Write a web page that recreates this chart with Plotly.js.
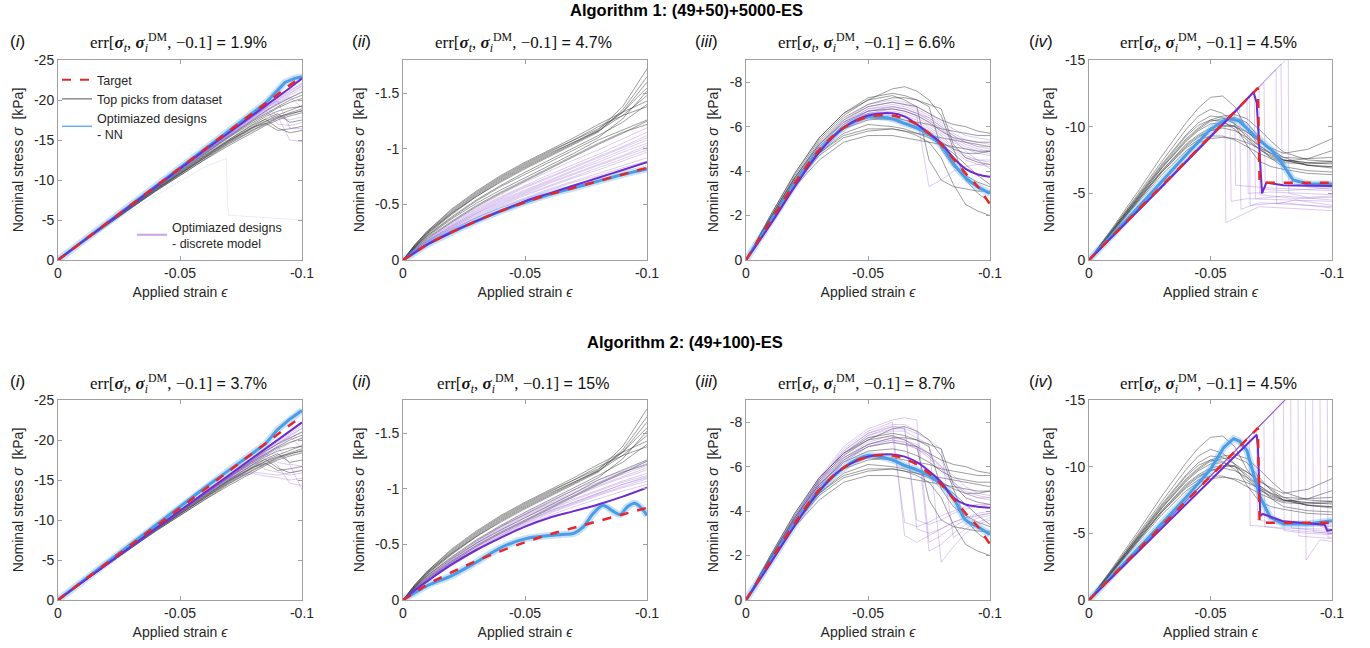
<!DOCTYPE html>
<html><head><meta charset="utf-8">
<script src="https://cdn.plot.ly/plotly-3.0.1.min.js"></script>
<style>html,body{margin:0;padding:0;background:#fff}#chart{width:1370px;height:648px}</style>
</head><body><div id="chart"></div>
<script>
// ---------------- DATA ----------------
const xTickVals = [0, -0.05, -0.1];
const xTickText = ['0', '-0.05', '-0.1'];
const yTickValsI = [0, -5, -10, -15, -20, -25];
const yTickTextI = ['0', '-5', '-10', '-15', '-20', '-25'];
const yTickValsII = [0, -0.5, -1, -1.5];
const yTickTextII = ['0', '-0.5', '-1', '-1.5'];
const yTickValsIII = [0, -2, -4, -6, -8];
const yTickTextIII = ['0', '-2', '-4', '-6', '-8'];
const yTickValsIV = [0, -5, -10, -15];
const yTickTextIV = ['0', '-5', '-10', '-15'];

const mainTitles = ['Algorithm 1: (49+50)+5000-ES', 'Algorithm 2: (49+100)-ES'];
const panelLabels = ['i', 'ii', 'iii', 'iv'];
const errTop = ['1.9%', '4.7%', '6.6%', '4.5%'];
const errBot = ['3.7%', '15%', '8.7%', '4.5%'];
const legendNames = ['Target', 'Top picks from dataset', 'Optimiazed designs<br>- NN', 'Optimiazed designs<br>- discrete model'];

// ----- column (i) -----
const xGridI = [0,-0.02,-0.04,-0.06,-0.07,-0.08,-0.085,-0.09,-0.095,-0.1];
const targetI = [0,-4.6,-9.2,-13.8,-16.1,-18.4,-19.6,-20.7,-21.9,-23.0];
const grayI = [
 [0,-4.5,-8.9,-13.0,-14.9,-16.6,-17.4,-18.1,-18.7,-19.3],
 [0,-4.4,-8.7,-12.7,-14.6,-16.3,-17.1,-17.8,-18.4,-18.9],
 [0,-4.4,-8.6,-12.5,-14.3,-16.0,-16.8,-17.5,-18.0,-18.4],
 [0,-4.5,-8.8,-12.8,-14.7,-16.5,-17.3,-17.9,-18.3,-18.6],
 [0,-4.5,-8.9,-13.1,-15.1,-17.0,-17.9,-18.6,-19.0,-19.2],
 [0,-4.6,-9.0,-13.3,-15.4,-17.4,-18.3,-19.2,-20.0,-20.6],
 [0,-4.5,-9.0,-13.2,-15.3,-17.2,-18.1,-19.0,-19.7,-20.2],
 [0,-4.4,-8.7,-12.8,-14.8,-16.6,-17.1,-16.2,-16.4,-16.7],
 [0,-4.5,-8.8,-13.0,-15.0,-16.9,-17.6,-16.5,-15.9,-16.2],
 [0,-4.6,-9.1,-13.4,-15.5,-17.6,-18.6,-19.5,-20.3,-21.0],
 [0,-4.4,-8.6,-12.6,-14.5,-16.2,-17.0,-17.7,-18.2,-18.7],
 [0,-4.5,-8.8,-12.9,-14.9,-16.7,-17.6,-18.3,-17.2,-17.5]
];
const purpleITop = [
 [0,-4.6,-9.2,-13.7,-15.9,-18.1,-19.2,-20.2,-21.2,-22.1],
 [0,-4.6,-9.1,-13.6,-15.8,-17.9,-19.0,-20.0,-20.9,-21.8],
 [0,-4.6,-9.1,-13.5,-15.6,-17.7,-18.7,-19.7,-20.6,-21.4],
 [0,-4.6,-9.1,-13.5,-15.7,-17.8,-18.8,-17.0,-16.8,-17.2],
 [0,-4.6,-9.2,-13.6,-15.8,-17.9,-18.9,-19.9,-16.5,-16.4],
 [0,-4.6,-9.1,-13.4,-15.5,-17.5,-18.5,-19.4,-20.3,-21.0],
 [0,-4.6,-9.2,-13.7,-15.9,-18.0,-19.1,-18.0,-15.0,-14.8],
 [0,-4.6,-9.1,-13.5,-15.6,-17.7,-18.6,-19.6,-20.4,-19.0],
 [0,-4.6,-9.2,-13.6,-15.8,-17.9,-18.9,-19.9,-20.8,-21.7],
 [0,-4.5,-9.0,-13.3,-15.4,-17.4,-18.4,-17.8,-17.5,-17.9],
 [0,-4.6,-9.2,-13.7,-15.9,-18.0,-19.1,-20.1,-21.1,-22.0]
];
const purpleITopOutlierX = [0,-0.02,-0.04,-0.06,-0.069,-0.0695,-0.07,-0.1];
const purpleITopOutlierY = [0,-4.2,-8.1,-11.6,-12.7,-7.0,-5.6,-5.0];
const bestITop = [0,-4.6,-9.2,-13.7,-15.9,-18.1,-19.2,-20.3,-21.5,-22.7];
const nnITopX = [0,-0.02,-0.04,-0.06,-0.07,-0.08,-0.085,-0.09,-0.093,-0.097,-0.1];
const nnITopY = [0,-4.6,-9.2,-13.8,-16.1,-18.4,-19.6,-21.2,-22.2,-22.7,-22.9];
const purpleIBot = [
 [0,-4.5,-9.0,-13.4,-15.6,-17.7,-18.8,-19.8,-20.8,-21.8],
 [0,-4.5,-8.9,-13.3,-15.4,-17.5,-18.5,-19.5,-20.5,-21.4],
 [0,-4.5,-8.9,-13.2,-15.3,-17.3,-18.3,-19.3,-20.2,-21.0],
 [0,-4.5,-8.9,-13.2,-15.3,-16.0,-15.8,-15.6,-15.9,-16.2],
 [0,-4.5,-8.9,-13.3,-15.4,-17.4,-16.3,-16.0,-15.6,-15.9],
 [0,-4.4,-8.8,-13.1,-15.2,-17.1,-18.1,-16.8,-14.6,-14.3],
 [0,-4.5,-8.9,-13.2,-15.3,-17.3,-18.2,-19.2,-17.0,-16.7],
 [0,-4.5,-9.0,-13.3,-15.5,-17.6,-18.6,-19.5,-20.4,-19.0],
 [0,-4.4,-8.8,-13.1,-15.1,-17.0,-17.9,-18.8,-19.6,-20.3],
 [0,-4.5,-8.9,-13.2,-15.2,-15.8,-15.5,-15.3,-15.0,-15.2],
 [0,-4.5,-9.0,-13.4,-15.5,-17.6,-18.6,-19.6,-20.6,-21.5],
 [0,-4.5,-8.9,-13.3,-15.4,-17.4,-18.4,-17.2,-16.9,-13.8]
];
const bestIBot = [0,-4.5,-9.0,-13.4,-15.6,-17.8,-18.9,-20.0,-21.1,-22.2];
const nnIBotX = [0,-0.02,-0.04,-0.06,-0.07,-0.08,-0.085,-0.09,-0.095,-0.1];
const nnIBotY = [0,-4.7,-9.4,-14.0,-16.2,-18.4,-19.5,-21.3,-22.6,-23.7];

// ----- column (ii) -----
const xGridII = [0,-0.005,-0.01,-0.02,-0.03,-0.04,-0.05,-0.06,-0.07,-0.08,-0.09,-0.1];
const targetII = [0,-0.07,-0.14,-0.25,-0.35,-0.44,-0.52,-0.59,-0.65,-0.71,-0.77,-0.83];
const grayII = [
 [0,-0.14,-0.26,-0.45,-0.61,-0.75,-0.87,-0.98,-1.08,-1.18,-1.33,-1.55],
 [0,-0.13,-0.25,-0.43,-0.59,-0.73,-0.85,-0.96,-1.06,-1.17,-1.38,-1.72],
 [0,-0.13,-0.24,-0.42,-0.58,-0.72,-0.84,-0.95,-1.06,-1.16,-1.30,-1.48],
 [0,-0.12,-0.23,-0.41,-0.57,-0.70,-0.82,-0.93,-1.04,-1.15,-1.35,-1.65],
 [0,-0.14,-0.26,-0.46,-0.62,-0.76,-0.88,-0.99,-1.10,-1.22,-1.33,-1.43],
 [0,-0.12,-0.22,-0.39,-0.54,-0.67,-0.79,-0.90,-1.01,-1.12,-1.24,-1.40],
 [0,-0.11,-0.21,-0.37,-0.51,-0.63,-0.74,-0.85,-0.96,-1.08,-1.17,-1.26],
 [0,-0.11,-0.20,-0.35,-0.49,-0.61,-0.72,-0.83,-0.94,-1.05,-1.15,-1.22],
 [0,-0.12,-0.22,-0.38,-0.53,-0.66,-0.77,-0.88,-0.99,-1.10,-1.27,-1.52],
 [0,-0.13,-0.24,-0.42,-0.57,-0.71,-0.83,-0.94,-1.05,-1.16,-1.33,-1.60],
 [0,-0.10,-0.19,-0.34,-0.48,-0.60,-0.71,-0.82,-0.93,-1.04,-1.14,-1.25],
 [0,-0.14,-0.25,-0.44,-0.60,-0.74,-0.86,-0.97,-1.08,-1.20,-1.30,-1.38]
];
const purpleIITop = [
 [0,-0.08,-0.15,-0.27,-0.38,-0.48,-0.56,-0.64,-0.71,-0.78,-0.85,-0.92],
 [0,-0.08,-0.15,-0.28,-0.39,-0.49,-0.58,-0.66,-0.74,-0.81,-0.89,-0.97],
 [0,-0.09,-0.16,-0.29,-0.41,-0.51,-0.60,-0.69,-0.77,-0.85,-0.93,-1.01],
 [0,-0.09,-0.17,-0.30,-0.42,-0.53,-0.62,-0.71,-0.80,-0.88,-0.97,-1.05],
 [0,-0.09,-0.17,-0.31,-0.44,-0.55,-0.65,-0.74,-0.83,-0.92,-1.01,-1.10],
 [0,-0.10,-0.18,-0.33,-0.46,-0.57,-0.67,-0.77,-0.86,-0.95,-1.05,-1.15],
 [0,-0.10,-0.19,-0.34,-0.47,-0.59,-0.70,-0.80,-0.90,-0.99,-1.09,-1.19],
 [0,-0.08,-0.15,-0.27,-0.38,-0.47,-0.55,-0.63,-0.70,-0.76,-0.83,-0.89],
 [0,-0.09,-0.16,-0.29,-0.40,-0.50,-0.59,-0.67,-0.75,-0.83,-0.91,-0.99],
 [0,-0.09,-0.17,-0.30,-0.42,-0.52,-0.61,-0.70,-0.78,-0.86,-0.94,-1.03],
 [0,-0.10,-0.18,-0.32,-0.45,-0.56,-0.66,-0.75,-0.84,-0.93,-1.02,-1.12],
 [0,-0.09,-0.17,-0.31,-0.43,-0.54,-0.63,-0.72,-0.81,-0.90,-0.99,-1.08]
];
const bestIITop = [0,-0.07,-0.14,-0.25,-0.35,-0.44,-0.53,-0.60,-0.67,-0.74,-0.81,-0.88];
const nnIITop = [0,-0.07,-0.14,-0.25,-0.35,-0.44,-0.52,-0.59,-0.65,-0.71,-0.77,-0.82];
const purpleIIBot = [
 [0,-0.09,-0.17,-0.31,-0.44,-0.56,-0.67,-0.76,-0.84,-0.91,-0.98,-1.04],
 [0,-0.09,-0.17,-0.32,-0.45,-0.57,-0.68,-0.78,-0.86,-0.94,-1.01,-1.07],
 [0,-0.10,-0.18,-0.33,-0.46,-0.59,-0.70,-0.80,-0.88,-0.96,-1.04,-1.10],
 [0,-0.10,-0.18,-0.34,-0.48,-0.61,-0.72,-0.82,-0.91,-0.99,-1.07,-1.14],
 [0,-0.10,-0.19,-0.35,-0.49,-0.62,-0.74,-0.84,-0.93,-1.02,-1.10,-1.17],
 [0,-0.11,-0.20,-0.36,-0.51,-0.64,-0.76,-0.86,-0.96,-1.05,-1.13,-1.21],
 [0,-0.11,-0.20,-0.37,-0.52,-0.66,-0.78,-0.89,-0.99,-1.08,-1.16,-1.25],
 [0,-0.09,-0.17,-0.32,-0.45,-0.58,-0.69,-0.79,-0.87,-0.95,-1.02,-1.09],
 [0,-0.10,-0.18,-0.34,-0.47,-0.60,-0.71,-0.81,-0.90,-0.98,-1.06,-1.12],
 [0,-0.10,-0.19,-0.35,-0.50,-0.63,-0.75,-0.85,-0.94,-1.03,-1.11,-1.19],
 [0,-0.11,-0.20,-0.36,-0.51,-0.65,-0.77,-0.87,-0.97,-1.06,-1.15,-1.23],
 [0,-0.09,-0.18,-0.33,-0.46,-0.58,-0.70,-0.80,-0.88,-0.96,-1.04,-1.11]
];
const bestIIBot = [0,-0.09,-0.17,-0.32,-0.45,-0.56,-0.66,-0.74,-0.80,-0.86,-0.93,-1.01];
const nnIIBotX = [0,-0.01,-0.02,-0.03,-0.04,-0.05,-0.06,-0.065,-0.07,-0.074,-0.078,-0.082,-0.086,-0.089,-0.092,-0.095,-0.098,-0.1];
const nnIIBotY = [0,-0.13,-0.22,-0.34,-0.47,-0.55,-0.58,-0.59,-0.60,-0.66,-0.78,-0.85,-0.80,-0.77,-0.84,-0.87,-0.82,-0.76];

// ----- column (iii) -----
const xGridIII = [0,-0.01,-0.02,-0.03,-0.04,-0.05,-0.06,-0.065,-0.07,-0.075,-0.08,-0.085,-0.09,-0.095,-0.1];
const targetIII = [0,-1.75,-3.45,-4.95,-5.95,-6.45,-6.5,-6.35,-6.1,-5.7,-5.2,-4.55,-3.9,-3.3,-2.5];
const grayIII = [
 [0,-1.9,-3.7,-5.2,-6.2,-6.7,-6.8,-6.7,-6.5,-6.2,-5.8,-5.5,-5.4,-5.3,-5.3],
 [0,-1.8,-3.5,-4.8,-5.6,-5.9,-5.9,-5.8,-5.7,-5.6,-5.5,-5.4,-5.3,-5.2,-5.1],
 [0,-1.7,-3.3,-4.5,-5.3,-5.6,-5.6,-5.5,-5.4,-5.3,-5.2,-5.1,-5.0,-4.9,-4.9],
 [0,-2.0,-3.9,-5.5,-6.6,-7.3,-7.5,-7.4,-7.2,-6.9,-5.0,-4.2,-3.8,-3.5,-3.3],
 [0,-1.9,-3.8,-5.4,-6.5,-7.2,-7.7,-7.8,-7.6,-7.2,-6.5,-5.0,-3.6,-3.0,-2.6],
 [0,-1.8,-3.6,-5.0,-5.9,-6.3,-6.4,-6.3,-6.2,-6.1,-5.9,-5.8,-5.7,-5.6,-5.6],
 [0,-1.9,-3.7,-5.2,-6.3,-6.9,-7.1,-7.0,-6.9,-4.5,-3.6,-3.3,-3.2,-3.1,-3.1],
 [0,-1.7,-3.4,-4.7,-5.5,-5.8,-5.9,-5.8,-5.6,-5.3,-4.6,-3.4,-2.5,-2.2,-2.0],
 [0,-1.8,-3.6,-5.1,-6.0,-6.4,-6.3,-6.1,-5.9,-5.6,-5.3,-5.0,-4.8,-4.8,-4.9],
 [0,-2.0,-3.9,-5.5,-6.6,-7.2,-7.4,-7.2,-6.9,-6.6,-6.3,-6.1,-6.0,-5.8,-5.7],
 [0,-1.7,-3.4,-4.8,-5.7,-6.1,-6.0,-5.9,-5.7,-5.5,-5.2,-4.8,-4.3,-3.8,-3.4],
 [0,-1.9,-3.7,-5.3,-6.4,-7.0,-7.3,-7.3,-7.2,-7.0,-6.8,-5.2,-4.6,-4.4,-4.3]
];
const purpleIIITop = [
 [0,-1.7,-3.4,-4.9,-6.0,-6.6,-6.7,-6.6,-6.4,-6.1,-5.7,-5.3,-5.0,-4.8,-4.7],
 [0,-1.7,-3.5,-5.0,-6.1,-6.8,-6.9,-6.8,-6.6,-6.3,-5.9,-5.5,-5.2,-5.0,-4.9],
 [0,-1.8,-3.5,-5.1,-6.2,-6.9,-7.1,-7.0,-6.8,-6.5,-6.1,-5.7,-5.4,-5.3,-5.2],
 [0,-1.6,-3.3,-4.8,-5.9,-6.4,-6.5,-6.3,-6.1,-5.8,-5.4,-4.9,-4.5,-4.3,-4.2],
 [0,-1.7,-3.4,-4.9,-6.0,-6.7,-6.9,-6.8,-6.6,-6.4,-6.0,-5.6,-5.3,-5.1,-5.0],
 [0,-1.8,-3.6,-5.2,-6.3,-7.0,-7.2,-7.1,-6.9,-6.6,-6.2,-5.9,-5.6,-5.5,-5.4],
 [0,-1.7,-3.4,-4.9,-6.0,-6.6,-6.8,-6.7,-6.5,-3.3,-3.6,-4.0,-4.2,-4.3,-4.3],
 [0,-1.6,-3.3,-4.8,-5.9,-6.5,-6.6,-6.5,-6.3,-6.0,-5.6,-5.1,-4.7,-4.5,-4.4],
 [0,-1.7,-3.5,-5.0,-6.1,-6.7,-6.8,-6.7,-6.5,-6.2,-5.8,-5.4,-5.1,-4.9,-4.8],
 [0,-1.8,-3.5,-5.1,-6.2,-6.8,-7.0,-6.9,-6.7,-6.4,-6.0,-5.6,-5.3,-5.1,-5.1],
 [0,-1.7,-3.4,-4.9,-6.0,-6.6,-6.6,-6.5,-6.2,-5.9,-5.5,-5.0,-4.6,-4.5,-4.5],
 [0,-1.7,-3.4,-5.0,-6.1,-6.7,-6.9,-6.8,-6.6,-6.3,-5.9,-5.4,-4.9,-4.5,-4.1]
];
const bestIIITop = [0,-1.6,-3.3,-4.85,-5.95,-6.5,-6.6,-6.45,-6.1,-5.7,-5.25,-4.6,-4.1,-3.85,-3.75];
const nnIIITop = [0,-1.7,-3.4,-4.9,-5.95,-6.45,-6.35,-6.15,-5.95,-5.65,-5.15,-4.35,-3.7,-3.3,-3.0];
const purpleIIIBot = [
 [0,-1.8,-3.6,-5.3,-6.6,-7.4,-7.8,-7.8,-3.2,-3.0,-3.2,-3.5,-3.7,-3.8,-3.9],
 [0,-1.9,-3.8,-5.5,-6.9,-7.7,-8.1,-8.2,-8.1,-2.6,-2.9,-3.3,-3.6,-3.8,-3.9],
 [0,-1.7,-3.5,-5.1,-6.4,-7.1,-7.4,-3.5,-3.3,-3.5,-3.8,-4.0,-4.2,-4.3,-4.3],
 [0,-1.8,-3.7,-5.4,-6.7,-7.5,-7.9,-7.9,-7.6,-2.2,-2.5,-3.0,-3.4,-3.7,-3.8],
 [0,-1.7,-3.4,-5.0,-6.2,-6.9,-7.1,-7.0,-6.8,-6.4,-5.8,-5.2,-4.8,-4.6,-4.5],
 [0,-1.8,-3.6,-5.2,-6.5,-7.3,-7.6,-7.6,-7.3,-7.0,-1.7,-2.4,-3.0,-3.4,-3.6],
 [0,-1.7,-3.5,-5.1,-6.3,-7.0,-7.3,-7.2,-7.0,-6.6,-6.0,-5.3,-4.8,-4.6,-4.6],
 [0,-1.9,-3.7,-5.4,-6.8,-7.6,-8.0,-2.9,-2.6,-2.9,-3.2,-3.5,-3.7,-3.9,-4.0],
 [0,-1.7,-3.5,-5.1,-6.3,-7.0,-7.2,-7.1,-6.9,-6.5,-5.9,-5.3,-4.9,-4.7,-4.6],
 [0,-1.8,-3.6,-5.3,-6.6,-7.4,-7.7,-7.7,-7.5,-7.2,-6.8,-2.8,-3.2,-3.5,-3.7],
 [0,-1.8,-3.7,-5.4,-6.7,-7.5,-7.8,-7.7,-3.6,-3.4,-3.6,-3.9,-4.1,-4.2,-4.3],
 [0,-1.7,-3.4,-5.0,-6.2,-6.9,-7.2,-7.1,-6.8,-6.5,-6.0,-5.6,-5.1,-4.8,-4.7]
];
const bestIIIBot = [0,-1.65,-3.35,-4.9,-5.95,-6.45,-6.55,-6.45,-6.2,-5.8,-5.3,-4.6,-4.3,-4.2,-4.15];
const nnIIIBot = [0,-1.7,-3.4,-4.9,-5.95,-6.5,-6.3,-6.05,-5.85,-5.6,-5.2,-4.6,-3.6,-3.3,-2.95];

// ----- column (iv) -----
const xGridIV = [0,-0.01,-0.02,-0.03,-0.04,-0.045,-0.05,-0.055,-0.06,-0.065,-0.07,-0.075,-0.08,-0.09,-0.1];
const targetIVX = [0,-0.0695,-0.0702,-0.1];
const targetIVY = [0,-12.9,-5.8,-5.8];
const grayIV = [
 [0,-2.3,-4.7,-7.1,-9.3,-10.1,-10.5,-10.4,-9.8,-9.0,-8.3,-7.8,-7.5,-7.3,-7.4],
 [0,-2.5,-5.1,-7.8,-10.3,-11.4,-12.2,-12.3,-11.5,-9.8,-8.6,-7.9,-7.5,-7.3,-7.2],
 [0,-2.2,-4.5,-6.7,-8.6,-9.3,-9.7,-9.9,-9.7,-9.2,-8.6,-8.0,-7.5,-7.1,-7.0],
 [0,-2.3,-4.6,-6.9,-8.9,-9.7,-10.2,-10.3,-10.0,-9.4,-8.5,-7.6,-7.0,-6.7,-6.6],
 [0,-2.2,-4.4,-6.6,-8.4,-9.0,-9.3,-9.3,-9.0,-8.5,-8.0,-7.6,-7.3,-7.2,-7.3],
 [0,-2.4,-4.9,-7.4,-9.8,-10.8,-11.3,-11.0,-10.2,-9.2,-8.3,-7.7,-7.4,-7.6,-8.2],
 [0,-2.2,-4.5,-6.7,-8.7,-9.4,-9.9,-10.1,-10.0,-9.6,-9.0,-8.3,-7.7,-7.1,-6.9],
 [0,-2.3,-4.6,-6.9,-9.0,-9.8,-10.4,-10.6,-10.7,-10.3,-9.2,-8.2,-7.5,-7.1,-7.0],
 [0,-2.1,-4.3,-6.4,-8.2,-8.8,-9.1,-9.2,-9.1,-8.8,-8.4,-8.0,-7.7,-7.6,-7.7],
 [0,-2.4,-4.8,-7.2,-9.4,-10.3,-10.8,-10.7,-10.2,-9.6,-8.9,-8.4,-8.0,-8.3,-9.1],
 [0,-2.2,-4.4,-6.6,-8.5,-9.2,-9.7,-10.0,-10.1,-8.6,-7.4,-7.0,-6.8,-6.5,-6.4],
 [0,-2.3,-4.7,-7.0,-9.1,-9.9,-10.5,-10.8,-10.9,-10.6,-9.8,-8.9,-8.1,-7.5,-7.4]
];
const purpleIVTopX = [
 [0,-0.058,-0.0585,-0.065,-0.1],
 [0,-0.062,-0.0625,-0.07,-0.1],
 [0,-0.065,-0.0655,-0.075,-0.1],
 [0,-0.068,-0.0685,-0.08,-0.1],
 [0,-0.072,-0.0725,-0.08,-0.1],
 [0,-0.077,-0.0772,-0.085,-0.1],
 [0,-0.082,-0.0822,-0.09,-0.1],
 [0,-0.056,-0.0563,-0.07,-0.1],
 [0,-0.060,-0.0603,-0.075,-0.1],
 [0,-0.066,-0.0663,-0.08,-0.1],
 [0,-0.070,-0.0703,-0.085,-0.1],
 [0,-0.079,-0.0795,-0.09,-0.1]
];
const purpleIVTopY = [
 [0,-10.9,-4.4,-4.6,-4.4],
 [0,-11.6,-3.8,-4.3,-4.0],
 [0,-12.1,-5.0,-5.1,-4.9],
 [0,-12.6,-4.6,-4.8,-4.5],
 [0,-13.3,-5.3,-5.2,-5.4],
 [0,-14.3,-4.2,-4.5,-4.1],
 [0,-15.2,-5.0,-4.7,-4.8],
 [0,-10.4,-2.8,-4.0,-3.7],
 [0,-11.2,-5.6,-5.4,-5.2],
 [0,-12.3,-4.1,-4.3,-3.9],
 [0,-13.0,-4.9,-4.6,-4.7],
 [0,-14.7,-5.6,-5.5,-5.3]
];
const bestIVTopX = [0,-0.03,-0.06,-0.0677,-0.069,-0.0705,-0.0712,-0.073,-0.08,-0.1];
const bestIVTopY = [0,-5.5,-11.1,-12.6,-11.8,-7.0,-5.0,-5.8,-5.6,-5.55];
const nnIVTopX = [0,-0.02,-0.04,-0.05,-0.055,-0.058,-0.062,-0.066,-0.07,-0.076,-0.08,-0.084,-0.09,-0.1];
const nnIVTopY = [0,-3.9,-7.9,-9.8,-10.4,-10.6,-10.4,-9.7,-9.0,-8.1,-7.1,-6.0,-5.7,-5.7];
const purpleIVBotX = [
 [0,-0.066,-0.0663,-0.08,-0.1],
 [0,-0.072,-0.0723,-0.085,-0.1],
 [0,-0.076,-0.0763,-0.09,-0.1],
 [0,-0.08,-0.0803,-0.09,-0.1],
 [0,-0.083,-0.0833,-0.1],
 [0,-0.086,-0.0863,-0.1],
 [0,-0.089,-0.0893,-0.095,-0.1],
 [0,-0.092,-0.0923,-0.1],
 [0,-0.095,-0.0953,-0.1],
 [0,-0.1],
 [0,-0.098,-0.0983,-0.1],
 [0,-0.069,-0.0693,-0.08,-0.1]
];
const purpleIVBotY = [
 [0,-12.3,-5.6,-5.4,-5.3],
 [0,-13.4,-5.5,-5.2,-5.0],
 [0,-14.1,-5.9,-5.6,-5.5],
 [0,-14.9,-5.2,-5.0,-4.9],
 [0,-15.4,-5.4,-5.1],
 [0,-16.0,-4.8,-4.6],
 [0,-16.6,-3.0,-4.5,-4.4],
 [0,-17.1,-5.1,-5.0],
 [0,-17.7,-5.5,-5.3],
 [0,-18.6],
 [0,-18.2,-4.7,-4.7],
 [0,-12.8,-6.0,-5.7,-5.6]
];
const bestIVBotX = [0,-0.03,-0.06,-0.069,-0.0695,-0.0705,-0.0715,-0.075,-0.08,-0.097,-0.098,-0.1];
const bestIVBotY = [0,-5.4,-10.8,-12.4,-11.5,-6.3,-6.45,-6.2,-5.9,-5.65,-5.2,-5.25];
const nnIVBotX = [0,-0.02,-0.04,-0.05,-0.0555,-0.0595,-0.062,-0.065,-0.0677,-0.0705,-0.0746,-0.08,-0.09,-0.1];
const nnIVBotY = [0,-3.8,-7.7,-9.8,-11.45,-12.1,-11.9,-11.2,-9.45,-7.7,-6.2,-5.7,-5.7,-5.95];

// ---------------- LAYOUT / DRAW ----------------
const W = 1370, H = 648;
const colPx = [[58,302],[403,647],[746,990],[1089,1332]];
const rowPx = [[60,260],[400,600]];
const C = {
  red: '#e8262a', gray: 'rgba(50,50,50,0.6)', purple: 'rgba(140,85,205,0.34)',
  best: '#6e2bd0', nn: '#4a9de6', nnHalo: 'rgba(74,157,230,0.30)', frame: '#a0a0a0', text: '#262626'
};
const FONT = 'Liberation Sans, Arial, sans-serif';

const panels = [
  {col:0,row:0, yr:[0,-25], yt:yTickValsI, ytt:yTickTextI,
   gray:[xGridI,grayI], purple:[xGridI,purpleITop], extraPurple:[[purpleITopOutlierX,purpleITopOutlierY]],
   nn:[nnITopX,nnITopY], best:[xGridI,bestITop], target:[xGridI,targetI], shape:'linear'},
  {col:1,row:0, yr:[0,-1.8], yt:yTickValsII, ytt:yTickTextII,
   gray:[xGridII,grayII], purple:[xGridII,purpleIITop], extraPurple:[],
   nn:[xGridII,nnIITop], best:[xGridII,bestIITop], target:[xGridII,targetII], shape:'spline'},
  {col:2,row:0, yr:[0,-9], yt:yTickValsIII, ytt:yTickTextIII,
   gray:[xGridIII,grayIII], purple:[xGridIII,purpleIIITop], extraPurple:[],
   nn:[xGridIII,nnIIITop], best:[xGridIII,bestIIITop], target:[xGridIII,targetIII], shape:'spline'},
  {col:3,row:0, yr:[0,-15], yt:yTickValsIV, ytt:yTickTextIV,
   gray:[xGridIV,grayIV], purple:[purpleIVTopX,purpleIVTopY], extraPurple:[],
   nn:[nnIVTopX,nnIVTopY], best:[bestIVTopX,bestIVTopY], target:[targetIVX,targetIVY], shape:'linear'},
  {col:0,row:1, yr:[0,-25], yt:yTickValsI, ytt:yTickTextI,
   gray:[xGridI,grayI], purple:[xGridI,purpleIBot], extraPurple:[],
   nn:[nnIBotX,nnIBotY], best:[xGridI,bestIBot], target:[xGridI,targetI], shape:'linear'},
  {col:1,row:1, yr:[0,-1.8], yt:yTickValsII, ytt:yTickTextII,
   gray:[xGridII,grayII], purple:[xGridII,purpleIIBot], extraPurple:[],
   nn:[nnIIBotX,nnIIBotY], best:[xGridII,bestIIBot], target:[xGridII,targetII], shape:'spline'},
  {col:2,row:1, yr:[0,-9], yt:yTickValsIII, ytt:yTickTextIII,
   gray:[xGridIII,grayIII], purple:[xGridIII,purpleIIIBot], extraPurple:[],
   nn:[xGridIII,nnIIIBot], best:[xGridIII,bestIIIBot], target:[xGridIII,targetIII], shape:'spline'},
  {col:3,row:1, yr:[0,-15], yt:yTickValsIV, ytt:yTickTextIV,
   gray:[xGridIV,grayIV], purple:[purpleIVBotX,purpleIVBotY], extraPurple:[],
   nn:[nnIVBotX,nnIVBotY], best:[bestIVBotX,bestIVBotY], target:[targetIVX,targetIVY], shape:'linear'}
];

const traces = [];
const layout = {
  width: W, height: H, margin: {l:0,r:0,t:0,b:0}, paper_bgcolor:'#fff', plot_bgcolor:'#fff',
  font: {family: FONT, color: C.text, size: 14},
  showlegend: true, annotations: []
};

function ln(x, y, id, line, extra) {
  return Object.assign({type:'scatter', mode:'lines', x:x, y:y,
    xaxis:'x'+id, yaxis:'y'+id, line:line, showlegend:false, hoverinfo:'skip'}, extra||{});
}

panels.forEach((p, k) => {
  const n = k + 1, id = n === 1 ? '' : String(n);
  const sh = p.shape;
  p.gray[1].forEach((y, j) => traces.push(ln(Array.isArray(p.gray[0][0]) ? p.gray[0][j] : p.gray[0], y, id, {color:C.gray, width:0.8})));
  p.purple[1].forEach((y, j) => traces.push(ln(Array.isArray(p.purple[0][0]) ? p.purple[0][j] : p.purple[0], y, id, {color:C.purple, width:0.9})));
  p.extraPurple.forEach(e => traces.push(ln(e[0], e[1], id, {color:'rgba(140,85,205,0.15)', width:0.9})));
  traces.push(ln(p.nn[0], p.nn[1], id, {color:C.nnHalo, width:7, shape:sh}));
  traces.push(ln(p.nn[0], p.nn[1], id, {color:C.nn, width:3, shape:sh}));
  traces.push(ln(p.best[0], p.best[1], id, {color:C.best, width:2, shape:sh}));
  traces.push(ln(p.target[0], p.target[1], id, {color:C.red, width:2.5, dash:'dash', shape:sh}));

  const xd = [colPx[p.col][0]/W, colPx[p.col][1]/W];
  const yd = [1 - rowPx[p.row][1]/H, 1 - rowPx[p.row][0]/H];
  const axBase = {showline:true, mirror:'ticks', linecolor:C.frame, linewidth:1, ticks:'inside', ticklen:4,
    tickcolor:C.frame, showgrid:false, zeroline:false, tickfont:{size:14, color:C.text, family:FONT}, fixedrange:true};
  layout['xaxis'+id] = Object.assign({}, axBase, {domain:xd, anchor:'y'+id, range:[0,-0.1], autorange:false,
    tickmode:'array', tickvals:xTickVals, ticktext:xTickText,
    title:{text:'Applied strain <i>ϵ</i>', font:{size:14, color:C.text}, standoff:7}});
  layout['yaxis'+id] = Object.assign({}, axBase, {domain:yd, anchor:'x'+id, range:p.yr, autorange:false,
    tickmode:'array', tickvals:p.yt, ticktext:p.ytt,
    title:{text:'Nominal stress <i>σ</i>\u00a0 [kPa]', font:{size:14, color:C.text}, standoff:7}});

  const errs = p.row === 0 ? errTop : errBot;
  const ty = p.row === 0 ? 43 : 383;
  const cx = (colPx[p.col][0] + colPx[p.col][1]) / 2 - 2;
  layout.annotations.push({xref:'paper', yref:'paper', x:cx/W, y:1-ty/H, xanchor:'center', yanchor:'middle', showarrow:false,
    font:{size:16, color:'#111'},
    text:"<span style=\"font-family:'Liberation Serif','DejaVu Serif',serif;font-size:17px\">err[<b><i>σ</i></b><sub><i>t</i></sub>, <b><i>σ</i></b><sub><i>i</i></sub><sup>DM</sup>, −0.1]</span> = " + errs[p.col]});
  const lx = [8, 350, 693, 1027][p.col];
  layout.annotations.push({xref:'paper', yref:'paper', x:lx/W, y:1-(ty-1)/H, xanchor:'left', yanchor:'middle', showarrow:false,
    font:{size:17, color:'#111'}, text:'(<i>' + panelLabels[p.col] + '</i>)'});
});

layout.annotations.push({xref:'paper', yref:'paper', x:686/W, y:1-10/H, xanchor:'center', yanchor:'middle', showarrow:false,
  font:{size:16.5, color:'#000'}, text:'<b>' + mainTitles[0] + '</b>'});
layout.annotations.push({xref:'paper', yref:'paper', x:685/W, y:1-342/H, xanchor:'center', yanchor:'middle', showarrow:false,
  font:{size:16.5, color:'#000'}, text:'<b>' + mainTitles[1] + '</b>'});

traces.push({type:'scatter', mode:'lines', x:[null], y:[null], name:legendNames[0], line:{color:C.red, width:2, dash:'dash'}, legend:'legend', hoverinfo:'skip'});
traces.push({type:'scatter', mode:'lines', x:[null], y:[null], name:legendNames[1], line:{color:'#555', width:1}, legend:'legend', hoverinfo:'skip'});
traces.push({type:'scatter', mode:'lines', x:[null], y:[null], name:legendNames[2], line:{color:C.nn, width:1.2}, legend:'legend', hoverinfo:'skip'});
traces.push({type:'scatter', mode:'lines', x:[null], y:[null], name:legendNames[3], line:{color:'rgb(200,165,225)', width:2}, legend:'legend2', hoverinfo:'skip'});

layout.legend = {x:57/W, y:1-65/H, xanchor:'left', yanchor:'top', bgcolor:'rgba(0,0,0,0)', font:{size:12.5, color:C.text},
  tracegroupgap:0, itemwidth:30, traceorder:'normal'};
layout.legend2 = {x:132/W, y:1-212/H, xanchor:'left', yanchor:'top', bgcolor:'rgba(0,0,0,0)', font:{size:12.5, color:C.text},
  itemwidth:30};

Plotly.newPlot('chart', traces, layout, {displayModeBar:false, staticPlot:true});
</script></body></html>
